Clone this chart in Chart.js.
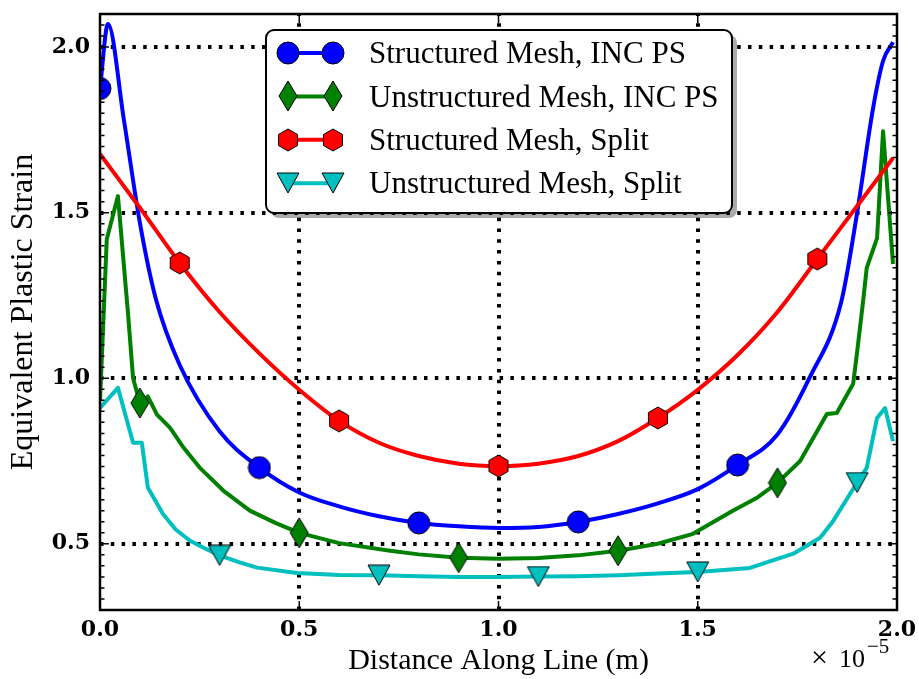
<!DOCTYPE html>
<html>
<head>
<meta charset="utf-8">
<title>Equivalent Plastic Strain</title>
<script src="https://cdn.jsdelivr.net/npm/chart.js@4.4.1/dist/chart.umd.min.js"></script>
<style>
  html, body { margin: 0; padding: 0; background: #fff; }
  #wrap { width: 919px; height: 679px; }
</style>
</head>
<body>
<div id="wrap"><canvas id="strain" width="919" height="679"></canvas></div>
<script>
// distance along the line is in units of 1e-5 m
const structIncX = [0, 0.02, 0.06, 0.1, 0.14, 0.2, 0.3, 0.4, 0.5, 0.6, 0.7, 0.8, 0.9, 1.0, 1.1, 1.2, 1.3, 1.4, 1.5, 1.6, 1.7, 1.78, 1.86, 1.9, 1.94, 1.965, 1.99]
const structIncY = [1.875, 2.07, 1.78, 1.47, 1.24, 1.04, 0.84, 0.73, 0.655, 0.613, 0.583, 0.563, 0.553, 0.548, 0.551, 0.566, 0.59, 0.622, 0.665, 0.738, 0.83, 1.0, 1.23, 1.5, 1.816, 1.958, 2.015]
const structIncMarks = [0, 0.4, 0.8, 1.2, 1.6]

const unstructIncX = [0, 0.017, 0.045, 0.07, 0.083, 0.1, 0.12, 0.143, 0.176, 0.21, 0.25, 0.31, 0.376, 0.44, 0.5, 0.6, 0.728, 0.8, 0.9, 1.0, 1.1, 1.2, 1.3, 1.4, 1.488, 1.588, 1.65, 1.7, 1.757, 1.824, 1.849, 1.89, 1.9, 1.915, 1.924, 1.95, 1.965, 1.99]
const unstructIncY = [0.93, 1.42, 1.55, 1.2, 1.0, 0.925, 0.945, 0.89, 0.85, 0.79, 0.73, 0.66, 0.6, 0.563, 0.533, 0.502, 0.479, 0.468, 0.458, 0.455, 0.457, 0.465, 0.479, 0.5, 0.53, 0.6, 0.64, 0.684, 0.75, 0.892, 0.895, 0.983, 1.08, 1.233, 1.333, 1.423, 1.746, 1.345]
const unstructIncMarks = [0.1, 0.5, 0.9, 1.3, 1.7]

const structSplitX = [0, 0.1, 0.2, 0.3, 0.4, 0.5, 0.6, 0.7, 0.8, 0.9, 1.0, 1.1, 1.2, 1.3, 1.4, 1.5, 1.6, 1.7, 1.8, 1.9, 1.99]
const structSplitY = [1.677, 1.515, 1.348, 1.2, 1.075, 0.965, 0.871, 0.805, 0.765, 0.742, 0.735, 0.742, 0.765, 0.81, 0.88, 0.965, 1.07, 1.2, 1.36, 1.52, 1.665]
const structSplitMarks = [0.2, 0.6, 1.0, 1.4, 1.8]

const unstructSplitX = [0, 0.045, 0.083, 0.105, 0.12, 0.158, 0.19, 0.226, 0.26, 0.3, 0.35, 0.394, 0.494, 0.6, 0.7, 0.8, 0.9, 1.0, 1.1, 1.2, 1.3, 1.4, 1.5, 1.631, 1.74, 1.807, 1.84, 1.9, 1.924, 1.95, 1.97, 1.99]
const unstructSplitY = [0.91, 0.971, 0.805, 0.805, 0.67, 0.59, 0.543, 0.509, 0.488, 0.465, 0.444, 0.428, 0.412, 0.406, 0.405, 0.402, 0.4, 0.4, 0.401, 0.402, 0.405, 0.41, 0.415, 0.427, 0.47, 0.518, 0.569, 0.685, 0.729, 0.88, 0.91, 0.81]
const unstructSplitMarks = [0.3, 0.7, 1.1, 1.5, 1.9]

const xTicks = [0, 0.5, 1.0, 1.5, 2.0]
const yTicks = [0.5, 1.0, 1.5, 2.0]
const xRange = [0, 2]
const yRange = [0.3, 2.1]
const yMinorStep = 1 / 30

const serif = '"Liberation Serif", "Times New Roman", serif'
const tickFont = { family: '"DejaVu Serif", serif', size: 22, weight: 'bold' }

// marker glyphs, drawn once into small canvases
function markerCanvas(w, h, fill, path) {
  const c = document.createElement('canvas')
  c.width = w
  c.height = h
  const g = c.getContext('2d')
  g.translate(w / 2, h / 2)
  g.beginPath()
  path(g)
  g.closePath()
  g.fillStyle = fill
  g.fill()
  g.lineWidth = 1
  g.strokeStyle = '#000'
  g.stroke()
  return c
}

const circleMark = markerCanvas(24, 24, '#0000ff', g => g.arc(0, 0, 11, 0, Math.PI * 2))
const diamondMark = markerCanvas(20, 32, '#008000', g => {
  g.moveTo(0, -15); g.lineTo(9, 0); g.lineTo(0, 15); g.lineTo(-9, 0)
})
const hexMark = markerCanvas(22, 24, '#ff0000', g => {
  for (let k = 0; k < 6; k++) {
    const a = -Math.PI / 2 + k * Math.PI / 3
    g.lineTo(11 * Math.cos(a), 11 * Math.sin(a))
  }
})
const triMark = markerCanvas(24, 22, '#00bfbf', g => {
  g.moveTo(-11, -10); g.lineTo(11, -10); g.lineTo(0, 10)
})

function series(label, xs, ys, marks, color, marker, order, smooth) {
  return {
    label,
    data: xs.map((x, i) => ({ x, y: ys[i] })),
    borderColor: color,
    backgroundColor: color,
    borderWidth: 4,
    borderJoinStyle: 'round',
    tension: 0,
    cubicInterpolationMode: smooth ? 'monotone' : 'default',
    pointStyle: marker,
    pointRadius: ctx => marks.includes(xs[ctx.dataIndex]) ? 10 : 0,
    pointHoverRadius: 0,
    clip: 0,
    fill: false,
    order
  }
}

// plot box taken from the scales themselves
function plotBox(chart) {
  const { x, y } = chart.scales
  return {
    left: x.getPixelForValue(xRange[0]),
    right: x.getPixelForValue(xRange[1]),
    top: y.getPixelForValue(yRange[1]),
    bottom: y.getPixelForValue(yRange[0])
  }
}

// dotted grid at the major ticks, under the curves
const gridLines = {
  id: 'gridLines',
  beforeDatasetsDraw(chart) {
    const { ctx, scales: { x, y } } = chart
    const a = plotBox(chart)
    ctx.save()
    ctx.strokeStyle = '#000'
    ctx.lineWidth = 4
    ctx.setLineDash([3.5, 7.3])
    ctx.beginPath()
    xTicks.filter(v => v > xRange[0] && v < xRange[1]).forEach(v => {
      const px = Math.round(x.getPixelForValue(v))
      ctx.moveTo(px, a.bottom)
      ctx.lineTo(px, a.top)
    })
    yTicks.forEach(v => {
      const py = Math.round(y.getPixelForValue(v))
      ctx.moveTo(a.left, py)
      ctx.lineTo(a.right, py)
    })
    ctx.stroke()
    ctx.restore()
  }
}

// axes box with inward ticks, plus the x offset label
const frame = {
  id: 'frame',
  afterDatasetsDraw(chart) {
    const { ctx, scales: { x, y } } = chart
    const a = plotBox(chart)
    ctx.save()
    ctx.strokeStyle = '#000'
    ctx.lineWidth = 1.5
    ctx.beginPath()
    xTicks.forEach(v => {
      const px = x.getPixelForValue(v)
      ctx.moveTo(px, a.bottom); ctx.lineTo(px, a.bottom - 9)
      ctx.moveTo(px, a.top); ctx.lineTo(px, a.top + 9)
    })
    yTicks.forEach(v => {
      const py = y.getPixelForValue(v)
      ctx.moveTo(a.left, py); ctx.lineTo(a.left + 9, py)
      ctx.moveTo(a.right, py); ctx.lineTo(a.right - 9, py)
    })
    for (let k = Math.ceil(yRange[0] / yMinorStep); k * yMinorStep <= yRange[1] + 1e-9; k++) {
      const py = y.getPixelForValue(k * yMinorStep)
      ctx.moveTo(a.left, py); ctx.lineTo(a.left + 4.5, py)
      ctx.moveTo(a.right, py); ctx.lineTo(a.right - 4.5, py)
    }
    ctx.stroke()
    ctx.lineWidth = 2.5
    ctx.strokeRect(a.left, a.top, a.right - a.left, a.bottom - a.top)

    ctx.fillStyle = '#000'
    ctx.textBaseline = 'alphabetic'
    ctx.font = '30px ' + serif
    ctx.fillText('×', 811, 667)
    ctx.font = '26px ' + serif
    ctx.fillText('10', 839, 667)
    ctx.font = '21px ' + serif
    ctx.fillText('−5', 867, 653)
    ctx.restore()
  }
}

// boxed legend with a drop shadow
const boxLegend = {
  id: 'boxLegend',
  afterDraw(chart) {
    const { ctx } = chart
    const L = 266, T = 30, W = 466, H = 183, R = 8
    const box = (dx, dy) => {
      ctx.beginPath()
      ctx.moveTo(L + dx + R, T + dy)
      ctx.arcTo(L + dx + W, T + dy, L + dx + W, T + dy + H, R)
      ctx.arcTo(L + dx + W, T + dy + H, L + dx, T + dy + H, R)
      ctx.arcTo(L + dx, T + dy + H, L + dx, T + dy, R)
      ctx.arcTo(L + dx, T + dy, L + dx + W, T + dy, R)
      ctx.closePath()
    }
    ctx.save()
    box(5, 5)
    ctx.fillStyle = 'rgba(0,0,0,0.33)'
    ctx.fill()
    box(0, 0)
    ctx.fillStyle = '#fff'
    ctx.fill()
    ctx.lineWidth = 2
    ctx.strokeStyle = '#000'
    ctx.stroke()

    const entries = [...chart.data.datasets].sort((p, q) => q.order - p.order)
    entries.forEach((ds, i) => {
      const cy = T + 23 + i * 43.4
      ctx.lineWidth = 4
      ctx.strokeStyle = ds.borderColor
      ctx.beginPath()
      ctx.moveTo(288, cy)
      ctx.lineTo(333, cy)
      ctx.stroke()
      const m = ds.pointStyle
      ctx.drawImage(m, Math.round(288 - m.width / 2), Math.round(cy - m.height / 2))
      ctx.drawImage(m, Math.round(333 - m.width / 2), Math.round(cy - m.height / 2))
      ctx.fillStyle = '#000'
      ctx.font = '31px ' + serif
      ctx.textBaseline = 'middle'
      ctx.fillText(ds.label, 369, cy + 2)
    })
    ctx.restore()
  }
}

Chart.defaults.color = '#000'
Chart.defaults.font.family = serif

new Chart(document.getElementById('strain'), {
  type: 'line',
  data: {
    datasets: [
      series('Structured Mesh, INC PS', structIncX, structIncY, structIncMarks, '#0000ff', circleMark, 3, true),
      series('Unstructured Mesh, INC PS', unstructIncX, unstructIncY, unstructIncMarks, '#008000', diamondMark, 2, false),
      series('Structured Mesh, Split', structSplitX, structSplitY, structSplitMarks, '#ff0000', hexMark, 1, true),
      series('Unstructured Mesh, Split', unstructSplitX, unstructSplitY, unstructSplitMarks, '#00bfbf', triMark, 0, false)
    ]
  },
  options: {
    responsive: false,
    animation: false,
    devicePixelRatio: 1,
    layout: { padding: { left: 0, right: 22, top: 14, bottom: 0 } },
    plugins: {
      legend: { display: false },
      tooltip: { enabled: false }
    },
    scales: {
      x: {
        type: 'linear',
        min: xRange[0],
        max: xRange[1],
        afterBuildTicks: axis => { axis.ticks = xTicks.map(value => ({ value })) },
        afterFit: scale => {
          scale.height = 69
          scale.paddingLeft = 0
          scale.paddingRight = 0
        },
        ticks: {
          font: tickFont,
          padding: 7,
          maxRotation: 0,
          callback: v => v.toFixed(1)
        },
        grid: { display: false, drawTicks: false },
        border: { display: false },
        title: {
          display: true,
          text: 'Distance Along Line (m)',
          font: { family: serif, size: 30 },
          padding: { top: 0, bottom: 0 }
        }
      },
      y: {
        type: 'linear',
        min: yRange[0],
        max: yRange[1],
        afterBuildTicks: axis => { axis.ticks = yTicks.map(value => ({ value })) },
        afterFit: scale => {
          scale.width = 100
          scale.paddingTop = 0
          scale.paddingBottom = 0
        },
        ticks: {
          font: tickFont,
          padding: 10,
          callback: v => v.toFixed(1)
        },
        grid: { display: false, drawTicks: false },
        border: { display: false },
        title: {
          display: true,
          text: 'Equivalent Plastic Strain',
          font: { family: serif, size: 32 },
          padding: { top: 4, bottom: 0 }
        }
      }
    }
  },
  plugins: [gridLines, frame, boxLegend]
})
</script>
</body>
</html>
